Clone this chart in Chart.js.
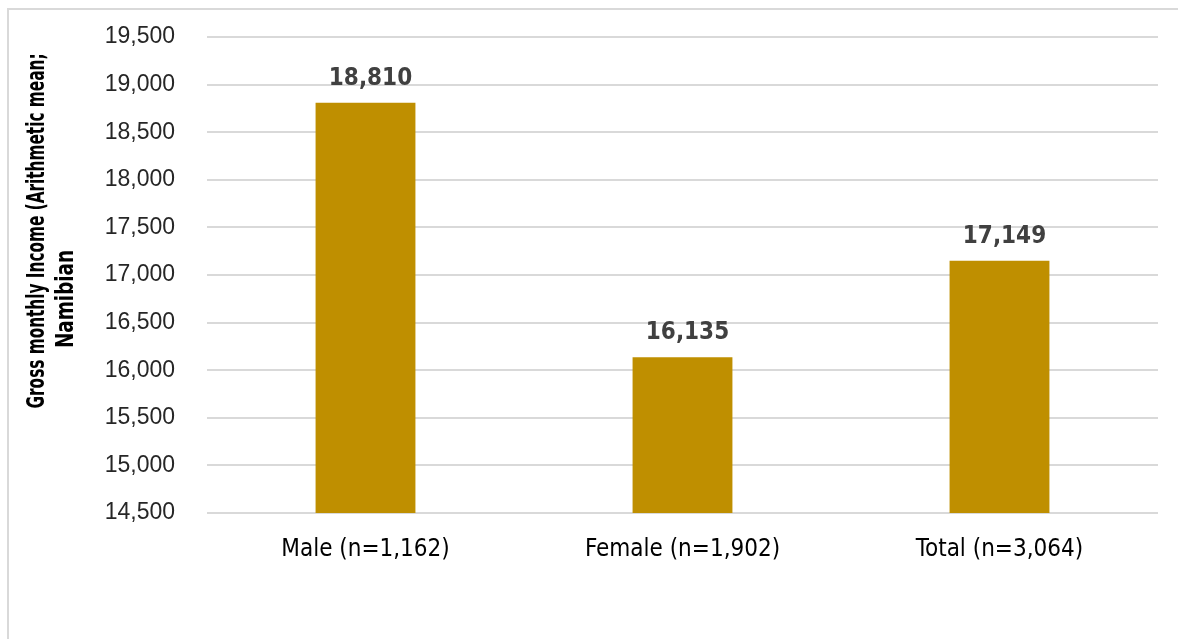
<!DOCTYPE html>
<html>
<head>
<meta charset="utf-8">
<script src="https://cdn.jsdelivr.net/npm/chart.js@4"></script>
<style>
  html, body { margin: 0; padding: 0; background: #fff; overflow: hidden; }
  #frame {
    position: absolute; left: 7px; top: 8px; width: 1300px; height: 800px;
    border-top: 2px solid #d9d9d9; border-left: 2px solid #d9d9d9;
  }
  #c { position: absolute; left: 0; top: 0; }
</style>
</head>
<body>
<div id="frame"></div>
<canvas id="c" width="1178" height="639"></canvas>
<script>
// Mean gross monthly income by sex (Namibian dollars)
const categories = ['Male (n=1,162)', 'Female (n=1,902)', 'Total (n=3,064)'];
const meanIncome = [18810, 16135, 17149];
const axisMin = 14500;
const axisMax = 19500;
const axisStep = 500;
const titleLines = ['Gross monthly Income (Arithmetic mean;', 'Namibian'];

const fmt = v => v.toLocaleString('en-US');

// Value labels above each bar
const barValueLabels = {
  id: 'barValueLabels',
  afterDatasetsDraw(chart) {
    const ctx = chart.ctx;
    const meta = chart.getDatasetMeta(0);
    ctx.save();
    ctx.font = 'bold 24px "DejaVu Sans Condensed", "DejaVu Sans", sans-serif';
    ctx.fillStyle = '#404040';
    ctx.textAlign = 'center';
    ctx.textBaseline = 'alphabetic';
    meta.data.forEach((bar, i) => {
      ctx.fillText(fmt(chart.data.datasets[0].data[i]), bar.x + 5, bar.y - 18);
    });
    ctx.restore();
  }
};

// Two-line rotated y-axis title
const yTitle = {
  id: 'yTitle',
  afterDraw(chart) {
    const ctx = chart.ctx;
    const draw = (text, x, y, maxW) => {
      ctx.save();
      ctx.font = 'bold 24px "DejaVu Sans", sans-serif';
      ctx.fillStyle = '#000';
      ctx.textAlign = 'center';
      ctx.textBaseline = 'alphabetic';
      ctx.translate(x, y);
      ctx.rotate(-Math.PI / 2);
      ctx.fillText(text, 0, 0, maxW);
      ctx.restore();
    };
    draw(titleLines[0], 44, 231, 355);
    draw(titleLines[1], 73, 299, 98);
  }
};

new Chart(document.getElementById('c'), {
  type: 'bar',
  data: {
    labels: categories,
    datasets: [{
      data: meanIncome,
      backgroundColor: '#BF8F00',
      borderWidth: 0,
      barPercentage: 0.315,
      categoryPercentage: 1
    }]
  },
  options: {
    responsive: false,
    animation: false,
    layout: { padding: { left: 0, right: 20, top: 37, bottom: 0 } },
    plugins: { legend: { display: false }, tooltip: { enabled: false } },
    scales: {
      x: {
        grid: { display: false, drawTicks: false },
        border: { display: false },
        ticks: {
          color: '#000',
          font: { family: '"DejaVu Sans Condensed", "DejaVu Sans", sans-serif', size: 24 },
          padding: 22,
          maxRotation: 0
        },
        afterFit(scale) { scale.height = 126; }
      },
      y: {
        min: axisMin,
        max: axisMax,
        grid: { color: '#d9d9d9', lineWidth: 2, drawTicks: false },
        border: { display: false },
        ticks: {
          stepSize: axisStep,
          color: '#262626',
          font: { family: '"Liberation Sans", Arial, sans-serif', size: 23 },
          padding: 32,
          callback: v => fmt(v)
        },
        afterFit(scale) {
          scale.width = 207;
          scale.paddingTop = 0;
          scale.paddingBottom = 0;
        }
      }
    }
  },
  plugins: [barValueLabels, yTitle]
});
</script>
</body>
</html>
